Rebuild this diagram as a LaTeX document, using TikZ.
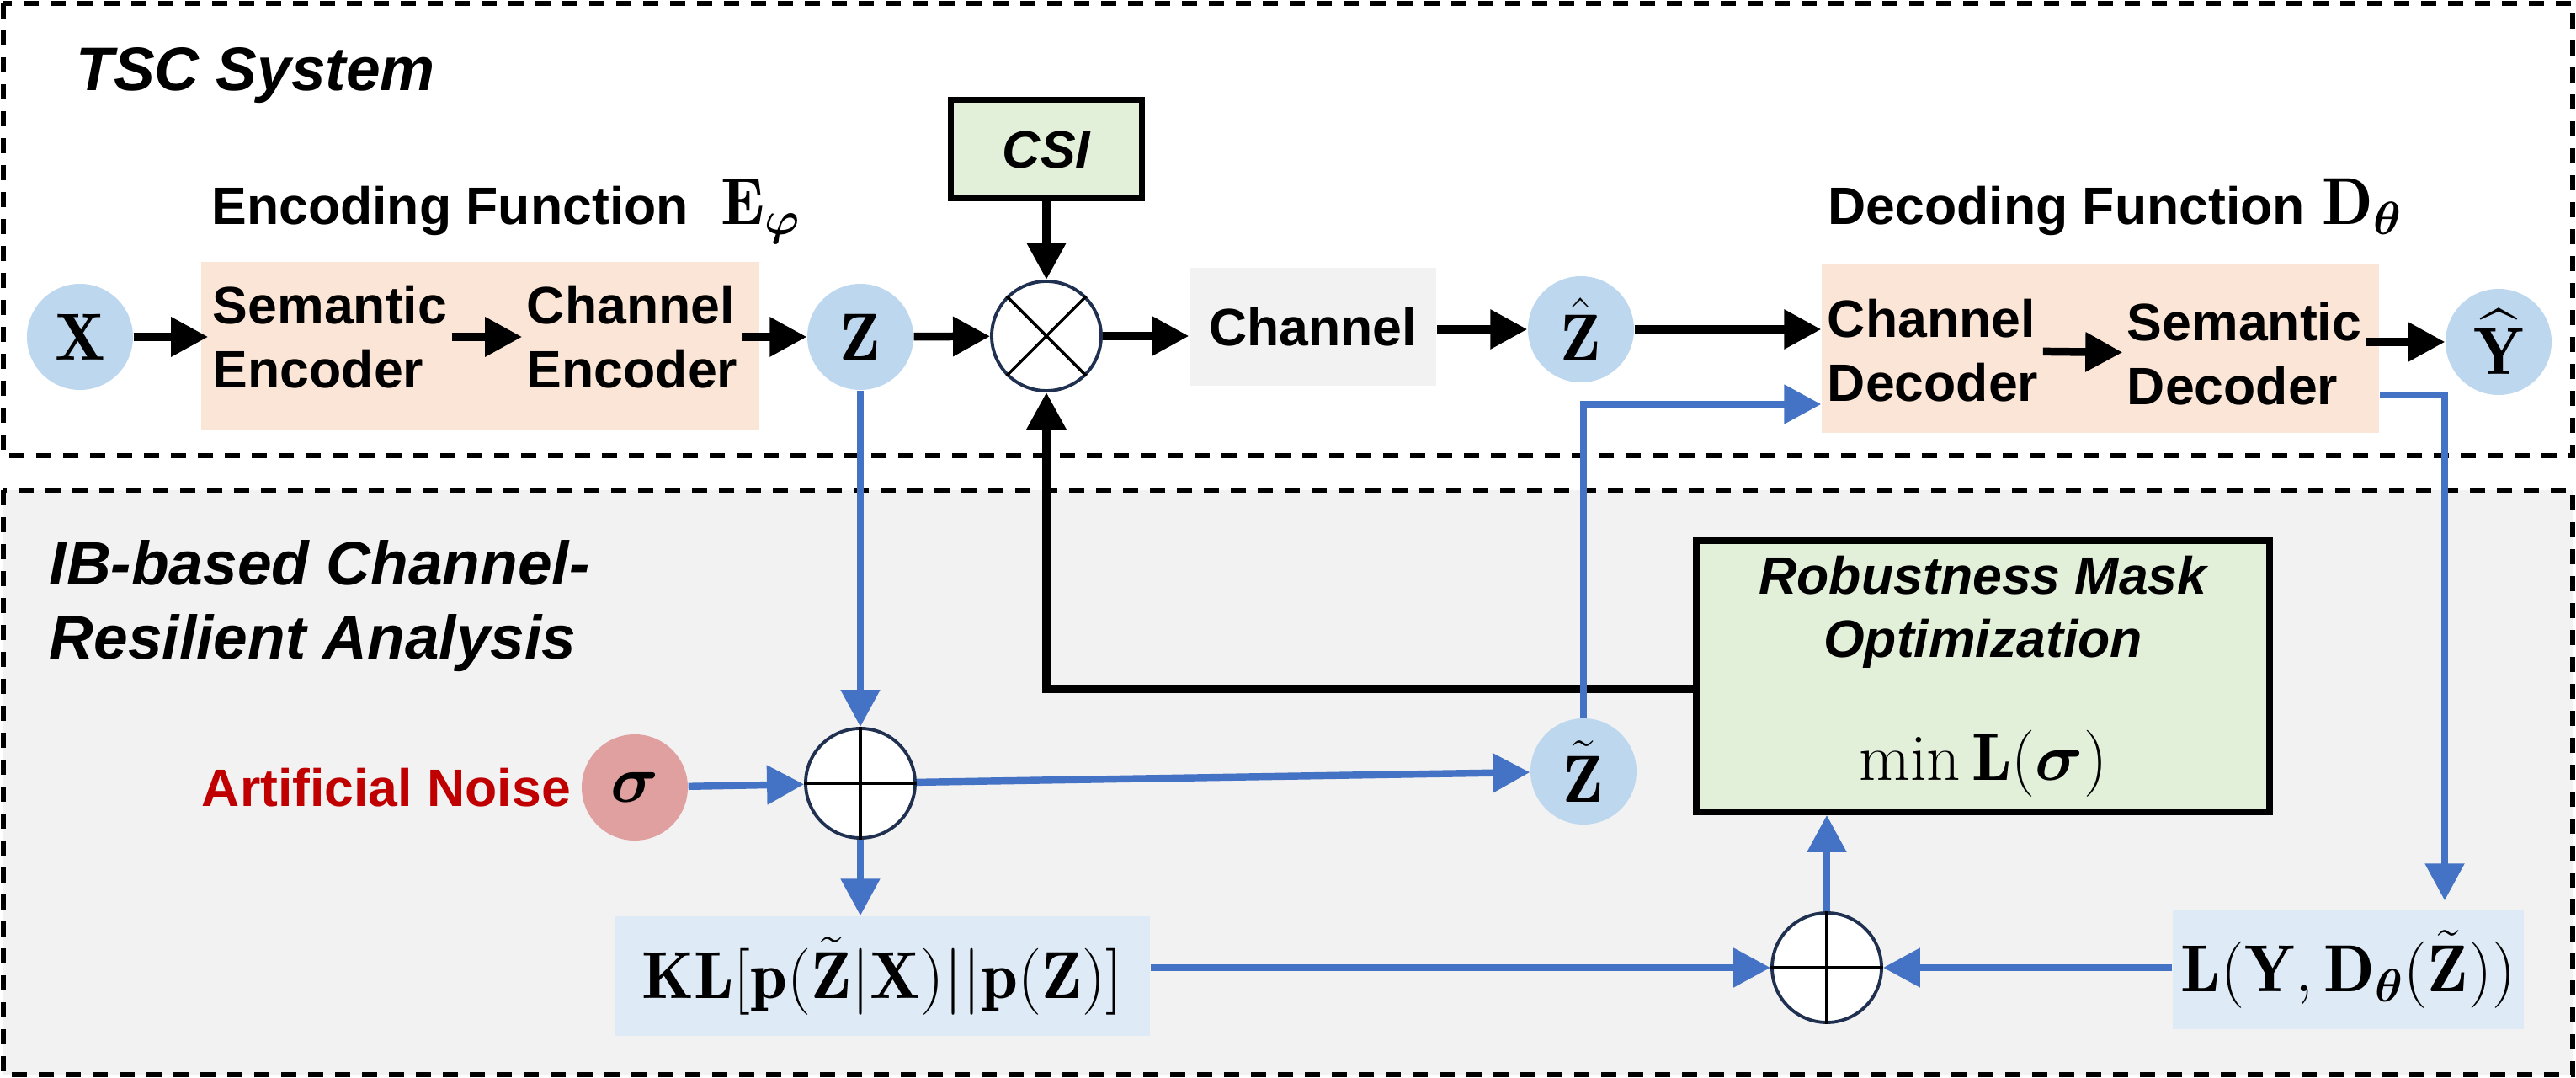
\RequirePackage{fix-cm}
\documentclass[tikz,border=0pt]{standalone}
\usepackage{amsmath}
\usepackage{amssymb}
\usepackage{fontspec}
\newfontfamily\arial{Liberation Sans}
\usepackage{tikz}
\usetikzlibrary{shapes.geometric, arrows.meta, positioning}

\definecolor{encpeach}{HTML}{FBE5D6}
\definecolor{varblue}{HTML}{BDD7EE}
\definecolor{csigreen}{HTML}{E2F0D9}
\definecolor{chgray}{HTML}{F2F2F2}
\definecolor{lossblue}{HTML}{DEEBF7}
\definecolor{flowblue}{HTML}{4472C4}
\definecolor{noisered}{HTML}{C00000}
\definecolor{sigmapink}{HTML}{E0A0A0}
\definecolor{opnavy}{HTML}{1F3050}

\newcommand{\lbl}{\arial\bfseries\fontsize{17.8}{21.5}\selectfont}
\newcommand{\ttl}{\arial\bfseries\itshape\fontsize{20.8}{25}\selectfont}
\newcommand{\mth}{\fontsize{22.5}{27}\selectfont}

\begin{document}
\begin{tikzpicture}[
  every node/.style={font=\lbl},
  txt/.style={align=left, inner sep=0.5mm},
  var/.style={circle, fill=varblue, minimum size=1.26cm, inner sep=0pt, font=\mth},
  op/.style={circle, draw=opnavy, line width=1.1pt, fill=white, minimum size=1.3cm, inner sep=0pt},
  block/.style={rectangle, inner sep=0pt},
  panel/.style={line width=1.6pt, dash pattern=on 1.8mm off 1.4mm},
  line/.style={-{Triangle[length=4.4mm, width=4.5mm]}, line width=2.7pt},
  bline/.style={line, draw=flowblue, line width=2.4pt}
]

\useasboundingbox (0,0) rectangle (30.6,-12.8);

\draw[panel] (0.04,-0.04) rectangle (30.56,-5.41);
\draw[panel, fill=chgray] (0.04,-5.82) rectangle (30.56,-12.76);

\node[anchor=base west, font=\ttl] (tsc) at (0.78,-1.08) {TSC System};
\node[anchor=north west, font=\ttl, align=left, inner sep=0pt] (ib) at (0.58,-6.41) {IB-based Channel-\\Resilient Analysis};

\node[var] (xin) at (0.95,-4.00) {$\mathbf{X}$};
\node[block, fill=encpeach, minimum width=6.63cm, minimum height=2cm] (encbox) at (5.705,-4.11) {};
\node[txt] (semenc) at (3.92,-4.00) {Semantic\\Encoder};
\node[txt] (chenc) at (7.51,-4.00) {Channel\\Encoder};
\node[anchor=base west] (enclbl) at (2.39,-2.67) {Encoding Function\hspace{11pt}{\mth$\mathbf{E}_{\boldsymbol{\varphi}}$}};

\node[var] (zin) at (10.22,-4.00) {$\mathbf{Z}$};
\node[op] (mult) at (12.43,-3.99) {};
\node[block, draw, line width=2pt, fill=csigreen, minimum width=2.27cm, minimum height=1.17cm, font=\lbl\itshape] (csi) at (12.43,-1.775) {CSI};
\node[block, fill=chgray, minimum width=2.93cm, minimum height=1.40cm] (chan) at (15.595,-3.88) {Channel};
\node[var] (zhat) at (18.78,-3.91) {$\hat{\mathbf{Z}}$};

\node[block, fill=encpeach, minimum width=6.62cm, minimum height=2cm] (decbox) at (24.95,-4.14) {};
\node[txt] (chdec) at (22.96,-4.16) {Channel\\Decoder};
\node[txt] (semdec) at (26.66,-4.20) {Semantic\\Decoder};
\node[anchor=base west] (declbl) at (21.59,-2.67) {Decoding Function\hspace{6pt}{\mth$\mathbf{D}_{\boldsymbol{\theta}}$}};
\node[var] (yhat) at (29.68,-4.06) {$\widehat{\mathbf{Y}}$};

\node[op] (plus1) at (10.22,-9.30) {};
\node[var, fill=sigmapink] (sigma) at (7.54,-9.35) {$\boldsymbol{\sigma}$};
\node[left=0pt of sigma, text=noisered] (noise) {Artificial Noise};
\node[var] (ztil) at (18.81,-9.16) {$\tilde{\mathbf{Z}}$};

\node[block, draw, line width=2.2pt, fill=csigreen, minimum width=6.81cm, minimum height=3.22cm, align=center, font=\lbl\itshape] (rmo) at (23.555,-8.03)
{Robustness Mask\\Optimization\\[20pt]{\mth$\min\mathbf{L}(\boldsymbol{\sigma})$}};

\node[block, fill=lossblue, minimum width=6.36cm, minimum height=1.42cm, font=\mth] (kl) at (10.48,-11.59)
{$\mathbf{KL}[\mathbf{p}(\tilde{\mathbf{Z}}|\mathbf{X})||\mathbf{p}(\mathbf{Z})]$};
\node[op] (plus2) at (21.70,-11.49) {};
\node[block, fill=lossblue, minimum width=4.17cm, minimum height=1.42cm, font=\mth] (lbox) at (27.895,-11.51)
{$\mathbf{L}(\mathbf{Y},\mathbf{D}_{\boldsymbol{\theta}}(\tilde{\mathbf{Z}}))$};

\draw[line width=1pt] (mult.45) -- (mult.225) (mult.135) -- (mult.315);
\draw[line width=1pt] (plus1.north) -- (plus1.south) (plus1.west) -- (plus1.east);
\draw[line width=1pt] (plus2.north) -- (plus2.south) (plus2.west) -- (plus2.east);

\coordinate (decin) at ([yshift=-6.6mm]decbox.west);
\coordinate (decout) at ([yshift=-5.5mm]decbox.east);
\coordinate (lin) at ([xshift=11.45mm, yshift=1mm]lbox.north);

\draw[line] (xin) -- (semenc);
\draw[line] (semenc) -- (chenc);
\draw[line] (chenc) -- (zin);
\draw[line] (zin) -- (mult);
\draw[line] (csi) -- (mult);
\draw[line] (mult) -- (mult -| chan.west);
\draw[line] (chan.east |- zhat) -- (zhat);
\draw[line] (zhat) -- (zhat -| decbox.west);
\draw[line] (chdec) -- (semdec);
\draw[line] (semdec.east |- yhat) -- (yhat);
\draw[line] ([yshift=-1.5mm]rmo.west) -| (mult);

\draw[bline] (zin) -- (plus1);
\draw[bline] (sigma) -- (plus1);
\draw[bline] (plus1) -- (ztil);
\draw[bline] (plus1) -- (plus1 |- kl.north);
\draw[bline] (kl.east |- plus2) -- (plus2);
\draw[bline] (lbox.west |- plus2) -- (plus2);
\draw[bline] (plus2) -- (plus2 |- rmo.south);
\draw[bline] (ztil) |- (decin);
\draw[bline] (decout) -| (lin);

\end{tikzpicture}
\end{document}
